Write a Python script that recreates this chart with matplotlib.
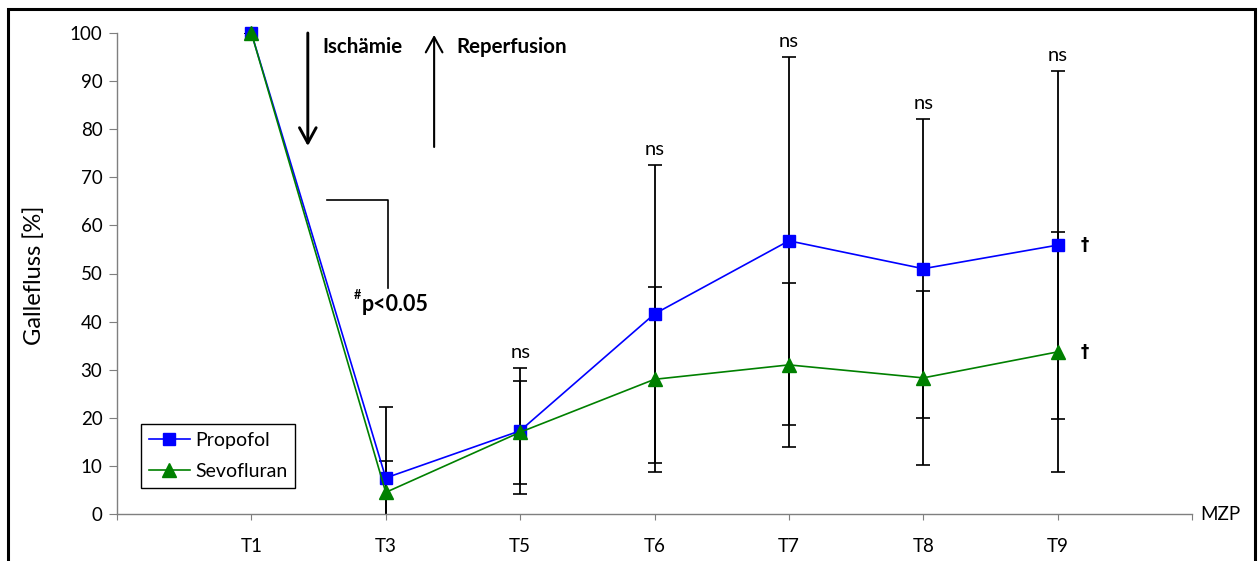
import matplotlib
matplotlib.use("Agg")
import matplotlib.pyplot as plt
from matplotlib.patches import Rectangle

plt.rcParams['font.family'] = ['Lato', 'DejaVu Sans']

# measurement points and group means / SD of bile flow in %
zeitpunkte = ["T1", "T3", "T5", "T6", "T7", "T8", "T9"]
propofol = [100, 7.5, 17.3, 41.6, 56.8, 51.0, 55.9]
propofol_sd = [0, 14.7, 13.1, 31.0, 38.2, 31.1, 36.2]
sevofluran = [100, 4.5, 17.0, 28.0, 31.0, 28.3, 33.7]
sevofluran_sd = [0, 6.6, 10.7, 19.2, 17.1, 18.1, 25.0]

# significance marks above the error bars
ns_punkte = ["T5", "T6", "T7", "T8", "T9"]

x = list(range(1, len(zeitpunkte) + 1))

fig = plt.figure(figsize=(12.58, 5.61), dpi=100)
ax = fig.add_axes([117 / 1258, 1 - 514 / 561, 1075 / 1258, 481 / 561])

# error bars first, so the markers sit on top
ax.errorbar(x, propofol, yerr=propofol_sd, fmt='none', ecolor='black',
            elinewidth=1.3, capsize=5, capthick=1.2, zorder=2)
ax.errorbar(x, sevofluran, yerr=sevofluran_sd, fmt='none', ecolor='black',
            elinewidth=1.3, capsize=5, capthick=1.2, zorder=2)

ax.plot(x, propofol, color='#0000ff', lw=1.2, marker='s', ms=8.5,
        label='Propofol', zorder=3, clip_on=False)
ax.plot(x, sevofluran, color='#008000', lw=1.2, marker='^', ms=10,
        label='Sevofluran', zorder=4, clip_on=False)

ax.set_xlim(0, 8)
ax.set_ylim(0, 100)
ax.set_yticks(range(0, 101, 10))
ax.set_xticks(range(0, 9))
ax.set_xticklabels([""] + zeitpunkte + [""])

for s in ['top', 'right']:
    ax.spines[s].set_visible(False)
for s in ['left', 'bottom']:
    ax.spines[s].set_color('#7f7f7f')
    ax.spines[s].set_linewidth(1)
ax.tick_params(axis='y', length=5.5, width=0.8, color='#7f7f7f', pad=5,
               labelsize=13.5)
ax.tick_params(axis='x', length=4.3, width=0.8, color='#7f7f7f', pad=13,
               labelsize=13.5)

fig.text(34 / 1258, 1 - 275 / 561, "Gallefluss [%]", rotation=90,
         ha='center', va='center', fontsize=17)
ax.text(8.06, 0, "MZP", ha='left', va='center', fontsize=13.5, clip_on=False)

# "ns" above the upper error bar
for p in ns_punkte:
    i = zeitpunkte.index(p)
    top = max(propofol[i] + propofol_sd[i], sevofluran[i] + sevofluran_sd[i])
    ax.annotate("ns", (x[i], top), xytext=(0, 7), textcoords='offset points',
                ha='center', va='baseline', fontsize=14.5)

# daggers at T9
ax.text(7.2, propofol[-1], "\u2020", ha='center', va='center',
        fontsize=12, fontweight='bold', family=['DejaVu Sans'])
ax.text(7.2, sevofluran[-1], "\u2020", ha='center', va='center',
        fontsize=12, fontweight='bold', family=['DejaVu Sans'])

# ischemia / reperfusion arrows
ax.annotate("", xy=(1.42, 76.5), xytext=(1.42, 100),
            arrowprops=dict(arrowstyle='->,head_length=0.55,head_width=0.3',
                            lw=2.1, color='black', mutation_scale=20,
                            shrinkA=0, shrinkB=0), annotation_clip=False)
ax.annotate("", xy=(2.36, 99.6), xytext=(2.36, 76.3),
            arrowprops=dict(arrowstyle='->,head_length=0.55,head_width=0.3',
                            lw=1.5, color='black', mutation_scale=20,
                            shrinkA=0, shrinkB=0), annotation_clip=False)
ax.text(1.525, 97.1, "Ischämie", ha='left', va='center', fontsize=14.8,
        fontweight='bold')
ax.text(2.522, 97.1, "Reperfusion", ha='left', va='center', fontsize=14.8,
        fontweight='bold')

# bracket for the significant drop
ax.plot([1.56, 2.02, 2.02], [65.3, 65.3, 47.0], color='black', lw=1.2)
ax.text(1.786, 45.6, "#", ha='center', va='center', fontsize=9,
        fontweight='bold')
ax.text(1.823, 43.6, "p<0.05", ha='left', va='center', fontsize=15.5,
        fontweight='bold')

leg = ax.legend(loc='lower left', bbox_to_anchor=(141 / 1258, 1 - 488 / 561),
                bbox_transform=fig.transFigure, fancybox=False,
                edgecolor='black', framealpha=1, fontsize=14,
                handlelength=2.1, borderpad=0.4, labelspacing=0.75,
                handletextpad=0.3, borderaxespad=0)
leg.get_frame().set_linewidth(1)

# frame around the whole figure
fig.add_artist(Rectangle((8 / 1258, -0.05), 1247 / 1258, 1.05 - 9 / 561,
                         transform=fig.transFigure, fill=False,
                         edgecolor='black', lw=2.2))

plt.savefig("out.png", dpi=100)
